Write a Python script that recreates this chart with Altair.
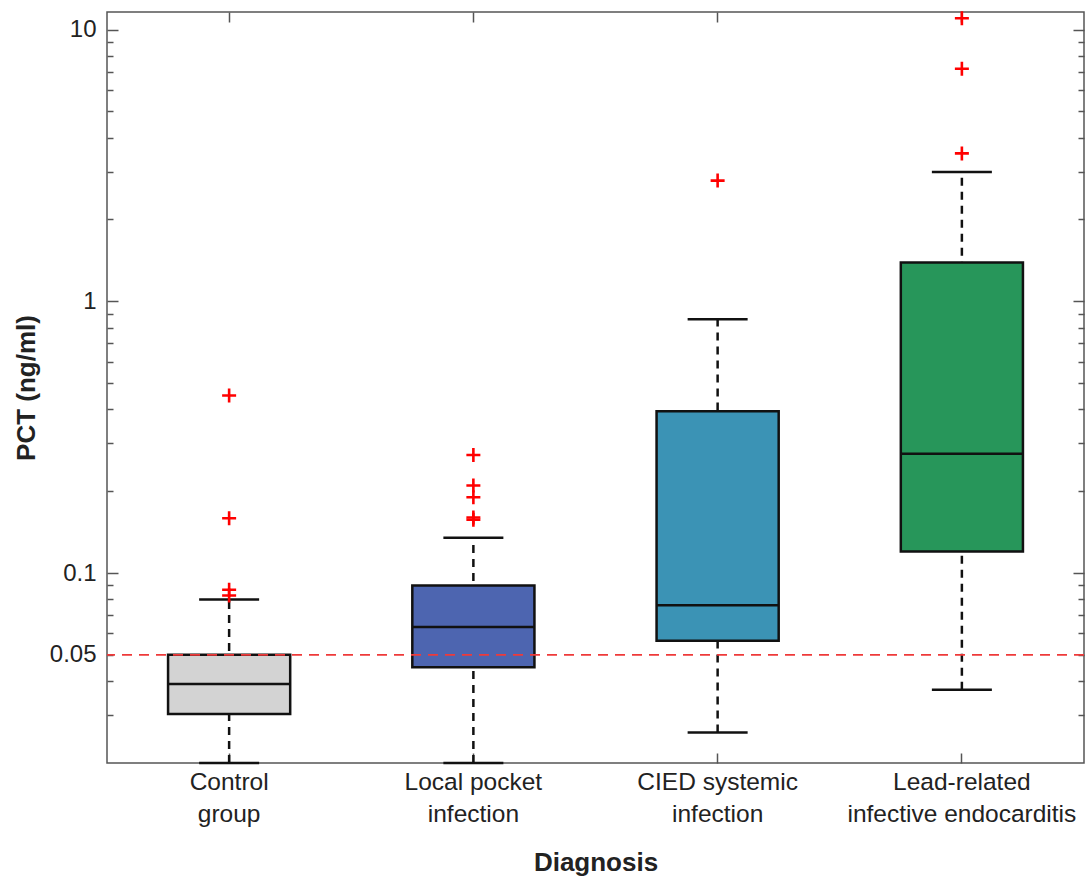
import altair as alt
import pandas as pd

# ---- data ----
categories = ["Control\ngroup", "Local pocket\ninfection", "CIED systemic\ninfection",
              "Lead-related\ninfective endocarditis"]
box_colors = ["#d3d3d3", "#4d65b0", "#3b93b5", "#27965a"]
whisker_low = [0.0200, 0.0200, 0.0259, 0.0372]
q1 = [0.0303, 0.0450, 0.0564, 0.120]
median = [0.0391, 0.0633, 0.0762, 0.275]
q3 = [0.0500, 0.0900, 0.394, 1.39]
whisker_high = [0.0800, 0.135, 0.858, 2.99]
outlier_group = [0, 0, 0, 0, 1, 1, 1, 1, 1, 2, 3, 3, 3]
outlier_values = [0.45, 0.159, 0.0868, 0.0827, 0.272, 0.210, 0.190, 0.160, 0.157, 2.78, 3.5, 7.17, 11.0]
cutoff = [0.05]
label_ticks = [0.05, 0.1, 1, 10]
major_ticks = [0.1, 1, 10]
minor_ticks = [0.03, 0.04, 0.05, 0.06, 0.07, 0.08, 0.09,
               0.2, 0.3, 0.4, 0.5, 0.6, 0.7, 0.8, 0.9,
               2, 3, 4, 5, 6, 7, 8, 9]
y_domain = [0.02, 11.6]

stats = pd.DataFrame({
    "category": categories, "lo": whisker_low, "q1": q1, "med": median,
    "q3": q3, "hi": whisker_high,
})
outliers = pd.DataFrame({"category": [categories[i] for i in outlier_group],
                         "v": outlier_values})
ref = pd.DataFrame({"v": cutoff})

FONT = "Liberation Sans"
TICK_COLOR = "#555555"
x_scale = alt.Scale(type="band", domain=categories, paddingInner=0, paddingOuter=0)
y_scale = alt.Scale(type="log", domain=y_domain, nice=False)


def y_tick_axis(orient, values, size):
    return alt.Axis(orient=orient, offset=-size, tickSize=size, values=values, labels=False,
                    domain=False, grid=False, title=None, tickColor=TICK_COLOR, tickWidth=1.5)


def x_tick_axis(orient, size):
    return alt.Axis(orient=orient, offset=-size, tickSize=size, labels=False,
                    domain=False, grid=False, title=None, tickColor=TICK_COLOR, tickWidth=1.5)


main_x_axis = alt.Axis(orient="bottom", ticks=False, tickSize=0, domain=False, grid=False,
                       labelExpr="split(datum.label, '\\n')", labelAngle=0,
                       labelFontSize=24.5, labelLineHeight=32, labelPadding=7,
                       labelBaseline="top", labelLimit=0, labelColor="#222222",
                       labelOverlap=False,
                       title="Diagnosis", titleFontSize=26, titleFontWeight="bold",
                       titleColor="#222222", titleY=107, titleBaseline="alphabetic")

main_y_axis = alt.Axis(orient="left", ticks=False, tickSize=0, domain=False, grid=False,
                       values=label_ticks, labelFontSize=24, labelPadding=11,
                       labelColor="#222222", labelExpr="datum.value >= 1 ? format(datum.value, 'd') : format(datum.value, '~g')",
                       title="PCT (ng/ml)", titleFontSize=26, titleFontWeight="bold",
                       titleColor="#222222", titleAngle=270, titleX=-81, titleY=375.5,
                       titleAlign="center", titleBaseline="middle")

base = alt.Chart(stats)

whiskers = base.mark_rule(color="#111111", strokeWidth=2.5, strokeDash=[8, 6]).encode(
    x=alt.X("category:N", sort=categories, scale=x_scale, axis=main_x_axis),
    y=alt.Y("lo:Q", scale=y_scale, axis=main_y_axis),
    y2="hi:Q",
)

caps_low = base.mark_tick(color="#111111", size=60, thickness=2.5, opacity=1).encode(
    x=alt.X("category:N", sort=categories, scale=x_scale, axis=x_tick_axis("top", 10)),
    y=alt.Y("lo:Q", scale=y_scale, axis=y_tick_axis("left", major_ticks, 11)),
)

caps_high = base.mark_tick(color="#111111", size=60, thickness=2.5, opacity=1).encode(
    x=alt.X("category:N", sort=categories, scale=x_scale, axis=x_tick_axis("bottom", 10)),
    y=alt.Y("hi:Q", scale=y_scale, axis=y_tick_axis("left", minor_ticks, 6)),
)

boxes = base.mark_bar(width=alt.RelativeBandSize(0.5), stroke="#111111", strokeWidth=2.5,
                      opacity=1).encode(
    x=alt.X("category:N", sort=categories, scale=x_scale, axis=None),
    y=alt.Y("q1:Q", scale=y_scale, axis=y_tick_axis("right", major_ticks, 11)),
    y2="q3:Q",
    fill=alt.Fill("category:N", scale=alt.Scale(domain=categories, range=box_colors), legend=None),
)

medians = base.mark_tick(color="#111111", size=122, thickness=2.5, opacity=1).encode(
    x=alt.X("category:N", sort=categories, scale=x_scale, axis=None),
    y=alt.Y("med:Q", scale=y_scale, axis=y_tick_axis("right", minor_ticks, 6)),
)

ref_line = alt.Chart(ref).mark_rule(color="#ee3a3a", strokeWidth=1.7, strokeDash=[10, 7]).encode(
    y=alt.Y("v:Q", scale=y_scale, axis=None),
)

points = alt.Chart(outliers).mark_point(
    shape="M-1,0L1,0M0,-1L0,1", size=196, color="#ff0000", strokeWidth=2.6, filled=False, opacity=1
).encode(
    x=alt.X("category:N", sort=categories, scale=x_scale, axis=None),
    y=alt.Y("v:Q", scale=y_scale, axis=None),
)

chart = alt.layer(whiskers, caps_low, caps_high, boxes, medians, ref_line, points).resolve_scale(
    x="shared", y="shared"
).resolve_axis(
    x="independent", y="independent"
).properties(
    width=977, height=751,
    autosize=alt.AutoSizeParams(type="none"),
    padding={"left": 107, "top": 12, "right": 4, "bottom": 114},
).configure(
    font=FONT,
).configure_view(
    stroke="#555555", strokeWidth=1.5,
)

chart.save("out.html", embed_options={"renderer": "svg", "actions": False})
